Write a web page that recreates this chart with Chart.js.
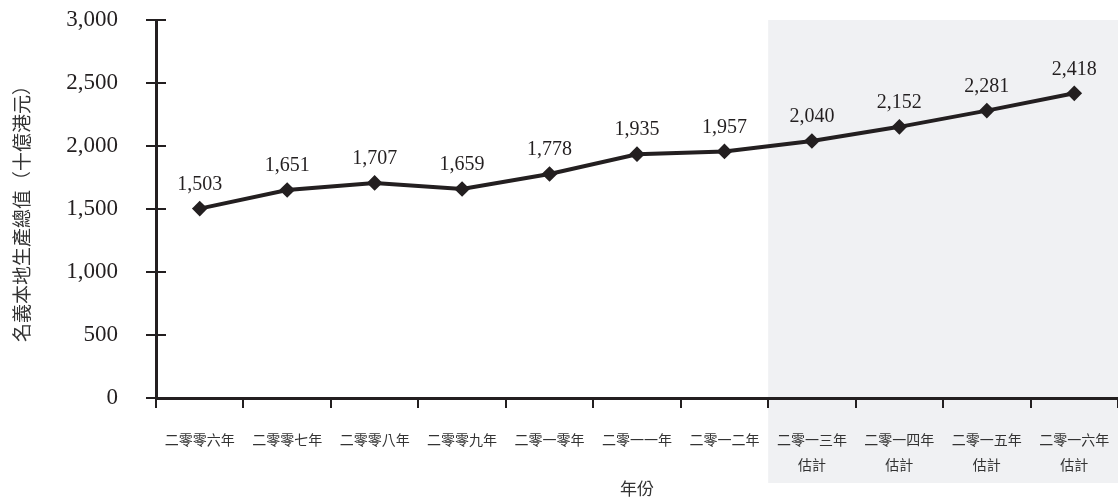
<!DOCTYPE html>
<html>
<head>
<meta charset="utf-8">
<script src="https://cdn.jsdelivr.net/npm/chart.js@4"></script>
<style>
  html, body { margin: 0; padding: 0; background: #fff; }
  #wrap { width: 1118px; height: 499px; position: relative; }
</style>
</head>
<body>
<div id="wrap"><canvas id="gdpChart"></canvas></div>
<script>
var years = ["二零零六年", "二零零七年", "二零零八年", "二零零九年", "二零一零年", "二零一一年",
  "二零一二年", "二零一三年", "二零一四年", "二零一五年", "二零一六年"];
var isEstimate = [false, false, false, false, false, false, false, true, true, true, true];
var gdpValues = [1503, 1651, 1707, 1659, 1778, 1935, 1957, 2040, 2152, 2281, 2418];
var yTicks = [0, 500, 1000, 1500, 2000, 2500, 3000];

var labels = years.map(function (y, i) { return isEstimate[i] ? [y, "估計"] : y; });
var serif = "'Liberation Serif', 'DejaVu Serif', serif";
var cjk = "'Noto Sans CJK TC', 'Noto Sans CJK SC', sans-serif";

// grey band behind the estimated years
var shadePlugin = {
  id: "shade",
  beforeDraw: function (chart) {
    var x = chart.scales.x, ctx = chart.ctx;
    var first = isEstimate.indexOf(true);
    var left = (x.getPixelForValue(first - 1) + x.getPixelForValue(first)) / 2;
    ctx.save();
    ctx.fillStyle = "#f0f1f3";
    ctx.fillRect(left, chart.chartArea.top, chart.width - left, 483 - chart.chartArea.top);
    ctx.restore();
  }
};

// y ticks crossing the axis + value labels
var extrasPlugin = {
  id: "extras",
  afterDatasetsDraw: function (chart) {
    var ctx = chart.ctx, y = chart.scales.y, a = chart.chartArea;
    ctx.save();
    ctx.strokeStyle = "#231f20";
    ctx.lineWidth = 2;
    yTicks.forEach(function (v) {
      var py = Math.round(y.getPixelForValue(v));
      ctx.beginPath();
      ctx.moveTo(a.left, py);
      ctx.lineTo(a.left + 10, py);
      ctx.stroke();
    });
    ctx.fillStyle = "#231f20";
    ctx.font = "20px " + serif;
    ctx.textAlign = "center";
    ctx.textBaseline = "middle";
    chart.getDatasetMeta(0).data.forEach(function (pt, i) {
      ctx.fillText(gdpValues[i].toLocaleString("en-US"), pt.x, pt.y - 24);
    });
    ctx.restore();
  }
};

var ctx = document.getElementById("gdpChart").getContext("2d");
var gdpChart = new Chart(ctx, {
  type: "line",
  data: {
    labels: labels,
    datasets: [{
      data: gdpValues,
      borderColor: "#231f20",
      backgroundColor: "#231f20",
      borderWidth: 4,
      pointStyle: "rectRot",
      pointRadius: 5,
      tension: 0
    }]
  },
  options: {
    responsive: true,
    maintainAspectRatio: false,
    animation: false,
    layout: { autoPadding: false, padding: { top: 20, right: 0, left: 0, bottom: 0 } },
    plugins: { legend: { display: false }, tooltip: { enabled: false } },
    scales: {
      x: {
        offset: true,
        grid: { offset: true, drawOnChartArea: false, tickLength: 10, color: "#231f20", lineWidth: 2 },
        border: { color: "#231f20", width: 3 },
        ticks: { color: "#333", font: { family: cjk, size: 14, lineHeight: "25px" }, padding: 19, maxRotation: 0, autoSkip: false },
        title: { display: true, text: "年份", color: "#333", font: { family: cjk, size: 17 }, padding: { top: 0, bottom: 0 } },
        afterFit: function (s) { s.height = 101; s.paddingLeft = 0; s.paddingRight = 0; }
      },
      y: {
        min: 0, max: 3000,
        afterBuildTicks: function (s) { s.ticks = yTicks.map(function (v) { return { value: v }; }); },
        grid: { drawOnChartArea: false, tickLength: 10, color: "#231f20", lineWidth: 2 },
        border: { color: "#231f20", width: 3 },
        ticks: { color: "#231f20", font: { family: serif, size: 23 }, padding: 28,
          callback: function (v) { return v.toLocaleString("en-US"); } },
        title: { display: true, text: "名義本地生產總值（十億港元）", color: "#333", font: { family: cjk, size: 19 }, padding: { top: 10, bottom: 0 } },
        afterFit: function (s) { s.width = 156; s.paddingTop = 0; s.paddingBottom = 0; }
      }
    }
  },
  plugins: [shadePlugin, extrasPlugin]
});
</script>
</body>
</html>
